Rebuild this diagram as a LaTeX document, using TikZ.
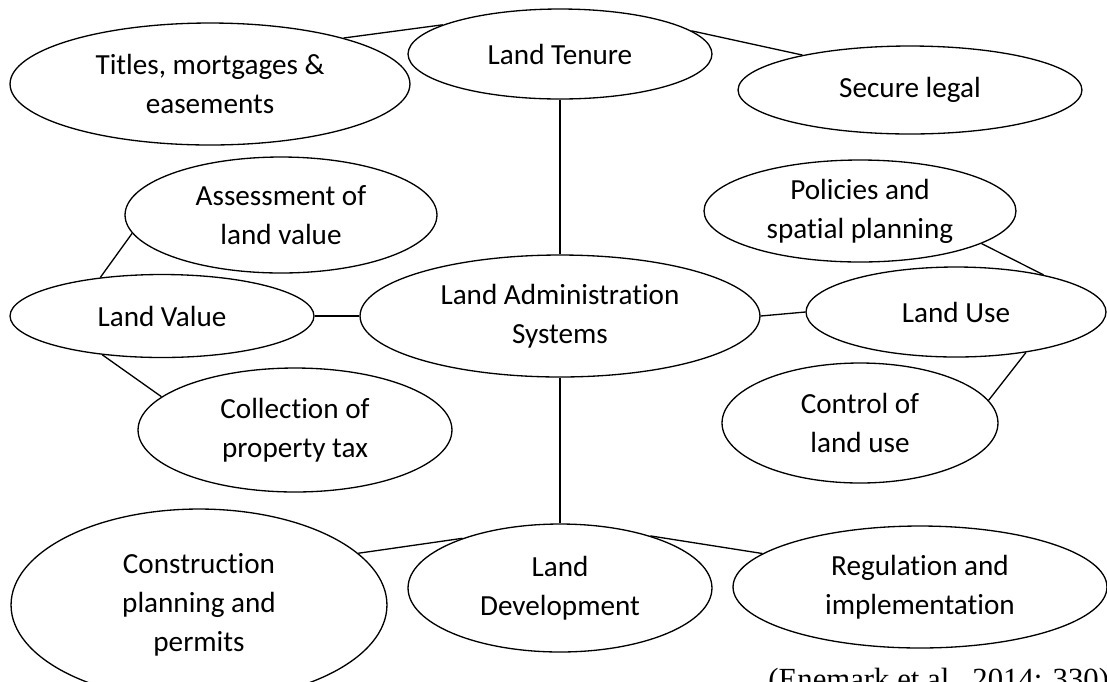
\documentclass[tikz,border=0pt]{standalone}
\usepackage{fontspec}
\setmainfont[Ligatures=NoCommon]{Carlito}
\newfontfamily\citefont{Liberation Serif}
\usepackage{tikz}
\usetikzlibrary{shapes.geometric}

\begin{document}
\begin{tikzpicture}[
  x=0.02cm, y=-0.02cm,
  font=\fontsize{16.6}{22.2}\selectfont,
  bubble/.style={ellipse, draw=black, line width=0.75pt, inner sep=0pt,
                 align=center, fill=white},
  link/.style={line width=0.75pt, draw=black},
]
\useasboundingbox (0,0) rectangle (1107,681);
% centre
\node[bubble, minimum width=8cm, minimum height=2.44cm] (admin) at (560,316) {Land Administration\\Systems};
% tenure branch
\node[bubble, minimum width=6.08cm, minimum height=1.8cm] (tenure) at (560,54) {Land Tenure};
\node[bubble, minimum width=8cm, minimum height=2.44cm] (titles) at (210,84) {Titles, mortgages \&\\easements};
\node[bubble, minimum width=6.88cm, minimum height=1.76cm] (secure) at (910,90) {Secure legal};
% value branch
\node[bubble, minimum width=6.08cm, minimum height=1.66cm] (value) at (162,316) {Land Value};
\node[bubble, minimum width=6.24cm, minimum height=2.32cm] (assess) at (281,215) {Assessment of\\land value};
\node[bubble, minimum width=6.28cm, minimum height=2.48cm] (collect) at (295,430) {Collection of\\property tax};
% use branch
\node[bubble, minimum width=6.0cm, minimum height=1.8cm] (use) at (956,312) {Land Use};
\node[bubble, minimum width=6.24cm, minimum height=2.04cm] (policy) at (860,211) {Policies and\\spatial planning};
\node[bubble, minimum width=5.52cm, minimum height=2.4cm] (control) at (860,423) {Control of\\land use};
% development branch
\node[bubble, minimum width=6.08cm, minimum height=2.56cm] (devel) at (560,588) {Land\\Development};
\node[bubble, minimum width=7.52cm, minimum height=3.84cm] (constr) at (199,605) {Construction\\planning and\\permits};
\node[bubble, minimum width=7.48cm, minimum height=2.44cm] (regul) at (920,587) {Regulation and\\implementation};

% connectors
\draw[link] (tenure.south) -- (admin.north);
\draw[link] (admin.south) -- (devel.north);
\draw[link] (value.east) -- (admin.west);
\draw[link] (admin.east) -- (use.west);
\draw[link] (titles.19) -- (tenure.166);
\draw[link] (tenure.10) -- (secure.162);
\draw[link] (assess.187) -- (value.148);
\draw[link] (value.213) -- (collect.166);
\draw[link] (policy.-15) -- (use.23);
\draw[link] (use.-30) -- (control.10);
\draw[link] (constr.18) -- (devel.153);
\draw[link] (devel.30) -- (regul.168);

\node[anchor=base west, inner sep=0pt, font=\citefont\fontsize{17.5}{21}\selectfont] (source) at (768,689) {(Enemark et al., 2014: 330)};
\end{tikzpicture}
\end{document}
